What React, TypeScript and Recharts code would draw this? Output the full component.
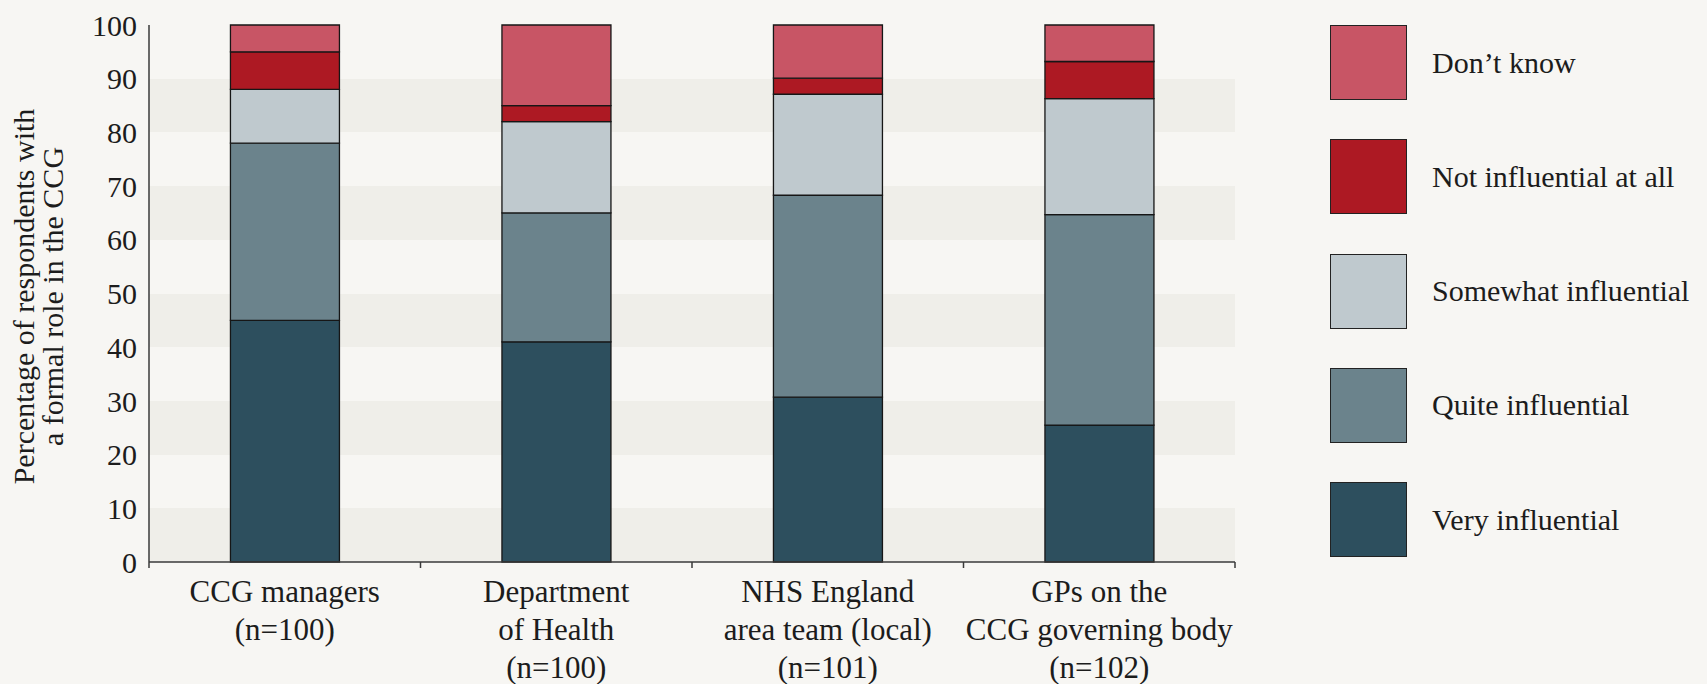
import React from 'react';
import { BarChart, Bar, XAxis, YAxis, CartesianGrid } from 'recharts';

// categories (one entry per bar), label lines as printed under the axis
const groups = ['CCG managers', 'Department of Health', 'NHS England area team (local)', 'GPs on the CCG governing body'];
const groupLines = [
  ['CCG managers', '(n=100)'],
  ['Department', 'of Health', '(n=100)'],
  ['NHS England', 'area team (local)', '(n=101)'],
  ['GPs on the', 'CCG governing body', '(n=102)'],
];

// percentages, bottom segment first
const veryInfluential = [45, 41, 30.7, 25.5];
const quiteInfluential = [33, 24, 37.6, 39.2];
const somewhatInfluential = [10, 17, 18.8, 21.6];
const notInfluential = [7, 3, 3.0, 6.9];
const dontKnow = [5, 15, 9.9, 6.8];

const yTicks = [0, 10, 20, 30, 40, 50, 60, 70, 80, 90, 100];

const series = [
  { key: 'very', name: 'Very influential', color: '#2d4f5e', values: veryInfluential },
  { key: 'quite', name: 'Quite influential', color: '#6b838c', values: quiteInfluential },
  { key: 'somewhat', name: 'Somewhat influential', color: '#bfc9ce', values: somewhatInfluential },
  { key: 'notAtAll', name: 'Not influential at all', color: '#ad1923', values: notInfluential },
  { key: 'dontKnow', name: 'Don\u2019t know', color: '#c85565', values: dontKnow },
];

const data = groups.map((name, i) => {
  const row: Record<string, any> = { name, idx: i };
  series.forEach((s) => { row[s.key] = s.values[i]; });
  return row;
});

const FONT = '"Liberation Serif", "Times New Roman", serif';
const TEXT = '#1c1c1c';
const BG = '#f7f6f3';
const BAND = '#efeee9';
const AXIS = '#3a3a3a';

const W = 1707;
const H = 684;
const PLOT_LEFT = 149;
const PLOT_RIGHT = 1235;
const PLOT_TOP = 25;
const PLOT_BOTTOM = 562;
const STEP = (PLOT_RIGHT - PLOT_LEFT) / groups.length;

const CategoryTick = (props: any) => {
  const { x, y, payload, index } = props;
  const i = payload?.index ?? index;
  const lines = groupLines[i] || [String(payload.value)];
  const half = STEP / 2;
  return (
    <g>
      <line x1={x - half} x2={x - half} y1={y} y2={y + 6} stroke={AXIS} strokeWidth={1.5} />
      {i === groups.length - 1 && (
        <line x1={x + half} x2={x + half} y1={y} y2={y + 6} stroke={AXIS} strokeWidth={1.5} />
      )}
      <text x={x} y={y} textAnchor="middle" fontFamily={FONT} fontSize={31} fill={TEXT}>
        {lines.map((l, k) => (
          <tspan key={k} x={x} dy={k === 0 ? 40 : 38}>{l}</tspan>
        ))}
      </text>
    </g>
  );
};

const YLabel = (props: any) => {
  const vb = props.viewBox || {};
  const cy = (vb.y ?? PLOT_TOP) + (vb.height ?? PLOT_BOTTOM - PLOT_TOP) / 2 + 3;
  const x0 = 34;
  return (
    <text
      x={x0}
      y={cy}
      transform={`rotate(-90, ${x0}, ${cy})`}
      textAnchor="middle"
      fontFamily={FONT}
      fontSize={30}
      fill={TEXT}
    >
      <tspan x={x0} dy={0}>Percentage of respondents with</tspan>
      <tspan x={x0} dy={29}>a formal role in the CCG</tspan>
    </text>
  );
};

const LegendBox = () => {
  const items = [...series].reverse();
  return (
    <div style={{ position: 'absolute', left: 1330, top: PLOT_TOP, fontFamily: FONT }}>
      {items.map((s, i) => (
        <div
          key={s.key}
          style={{ position: 'absolute', left: 0, top: i * 114.25, height: 75, display: 'flex', alignItems: 'center' }}
        >
          <div style={{ width: 77, height: 75, boxSizing: 'border-box', background: s.color, border: '1.5px solid #222' }} />
          <span style={{ marginLeft: 25, fontSize: 30, color: TEXT, whiteSpace: 'nowrap' }}>{s.name}</span>
        </div>
      ))}
    </div>
  );
};

export default function App() {
  return (
    <div style={{ position: 'absolute', left: 0, top: 0, width: W, height: H, background: BG, overflow: 'hidden' }}>
      <BarChart
        width={W}
        height={H}
        data={data}
        margin={{ top: PLOT_TOP, right: W - PLOT_RIGHT, bottom: 0, left: 0 }}
        barCategoryGap="30%"
      >
        <CartesianGrid vertical={false} stroke="none" horizontalFill={[BAND, BG]} fillOpacity={1} />
        <XAxis
          dataKey="name"
          interval={0}
          height={H - PLOT_BOTTOM}
          axisLine={{ stroke: AXIS, strokeWidth: 1.5 }}
          tickLine={false}
          tickSize={0}
          tickMargin={0}
          tick={<CategoryTick />}
        />
        <YAxis
          width={PLOT_LEFT}
          domain={[0, 100]}
          ticks={yTicks}
          interval={0}
          axisLine={{ stroke: AXIS, strokeWidth: 1.5 }}
          tickLine={false}
          tickMargin={6}
          tick={{ fontFamily: FONT, fontSize: 30, fill: TEXT }}
          label={{ content: (p: any) => <YLabel {...p} /> }}
        />
        {series.map((s) => (
          <Bar
            key={s.key}
            dataKey={s.key}
            name={s.name}
            stackId="a"
            fill={s.color}
            stroke="#161616"
            strokeWidth={1.3}
            isAnimationActive={false}
          />
        ))}
      </BarChart>
      <LegendBox />
    </div>
  );
}
